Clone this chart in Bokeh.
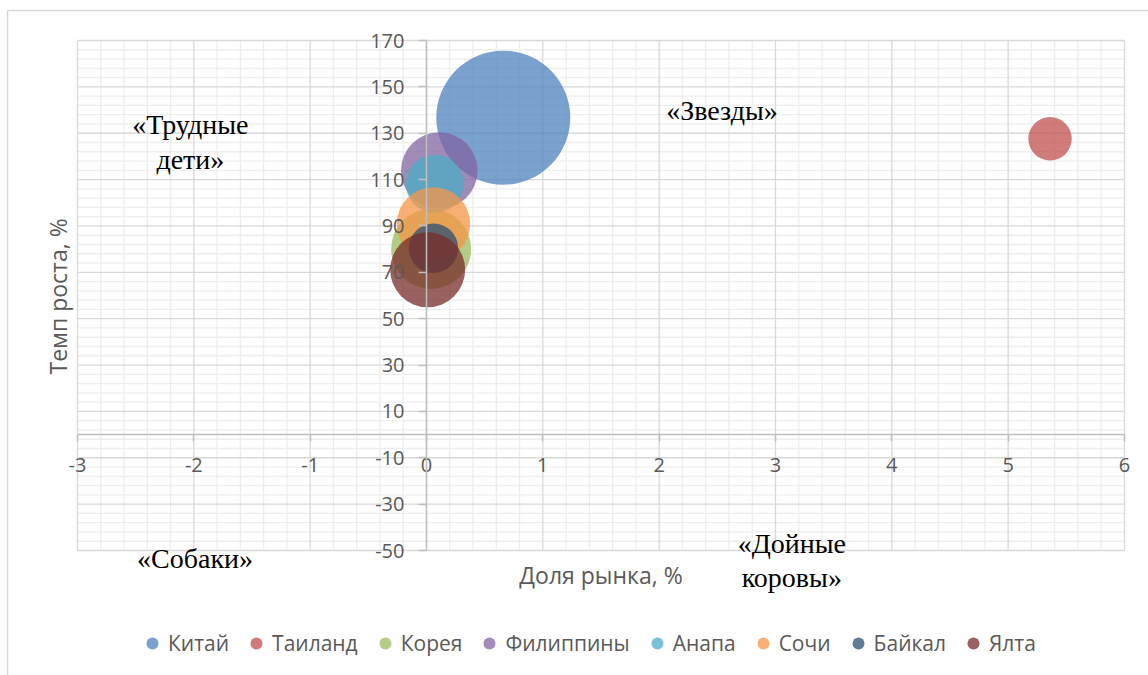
import numpy as np
from bokeh.plotting import figure
from bokeh.models import (LinearAxis, FixedTicker, Range1d, Legend, LegendItem,
                          ColumnDataSource)
from bokeh.core.properties import value
from bokeh.embed import file_html
from bokeh.resources import INLINE

# ---------------- data ----------------
countries = ["Китай", "Таиланд", "Корея", "Филиппины", "Анапа", "Сочи", "Байкал", "Ялта"]
market_share = [0.66, 5.36, 0.04, 0.11, 0.07, 0.06, 0.06, 0.01]      # Доля рынка, %
growth_rate = [136.7, 127.6, 80.1, 113.9, 108.2, 90.9, 80.4, 71.1]   # Темп роста, %
bubble_value = [100.0, 10.5, 35.6, 32.7, 18.7, 30.0, 13.6, 31.3]     # bubble size
x_ticks = [-3, -2, -1, 0, 1, 2, 3, 4, 5, 6]
y_ticks = [-50, -30, -10, 10, 30, 50, 70, 90, 110, 130, 150, 170]
quadrant_texts = ["«Трудные", "дети»", "«Звезды»", "«Собаки»", "«Дойные", "коровы»"]
x_title = "Доля рынка, %"
y_title = "Темп роста, %"

colors = ["#4F81BD", "#C0504D", "#9BBB59", "#8064A2", "#4BACC6", "#F79646", "#2C4D75", "#772C2A"]

# ---------------- layout ----------------
W, H = 1148, 675
L, R, T, B = 77, 1124, 40, 550          # plot area in pixels
xmin, xmax = -3, 6
ymin, ymax = -50, 170
kx = (R - L) / (xmax - xmin)
ky = (B - T) / (ymax - ymin)
x_range = Range1d(xmin - L / kx, xmax + (W - R) / kx)
y_range = Range1d(ymin - (H - B) / ky, ymax + T / ky)


def px(xp):
    return xmin + (xp - L) / kx


def py(yp):
    return ymax - (yp - T) / ky


p = figure(width=W, height=H, x_range=x_range, y_range=y_range,
           x_axis_location=None, y_axis_location=None,
           toolbar_location=None, output_backend="svg", min_border=0,
           outline_line_color=None, background_fill_color="white",
           border_fill_color="white")
p.grid.visible = False

# chart-area border (left and top edges)
p.segment(x0=[px(7), px(7)], y0=[py(10), py(10)], x1=[px(W), px(7)], y1=[py(10), py(H)],
          line_color="#d9d9d9", line_width=1.5)

# minor grid
minor_x = [round(v, 1) for v in np.arange(xmin, xmax + 1e-9, 0.2) if abs(v - round(v)) > 1e-6]
minor_y = [v for v in range(ymin, ymax + 1, 4) if (v - ymin) % 20 != 0]
p.segment(x0=minor_x, y0=ymin, x1=minor_x, y1=ymax, line_color="#eeeeee", line_width=1.3)
p.segment(x0=xmin, y0=minor_y, x1=xmax, y1=minor_y, line_color="#eeeeee", line_width=1.3)
# major grid
p.segment(x0=x_ticks, y0=ymin, x1=x_ticks, y1=ymax, line_color="#d9d9d9", line_width=1.3)
p.segment(x0=xmin, y0=y_ticks, x1=xmax, y1=y_ticks, line_color="#d9d9d9", line_width=1.3)

# axes crossing at 0
common = dict(axis_line_color="#bfbfbf", axis_line_width=1.5,
              major_tick_line_color="#bfbfbf", major_tick_line_width=1.5,
              major_tick_in=0, minor_tick_line_color=None,
              major_label_text_font="Open Sans", major_label_text_font_size="20px",
              major_label_text_color="#595959")
xax = LinearAxis(ticker=FixedTicker(ticks=x_ticks, minor_ticks=[]), fixed_location=0,
                 bounds=(xmin, xmax), major_tick_out=7, major_label_standoff=16,
                 major_label_overrides={t: str(t) for t in x_ticks}, **common)
yax = LinearAxis(ticker=FixedTicker(ticks=y_ticks, minor_ticks=[]), fixed_location=0,
                 bounds=(ymin, ymax), major_tick_out=8, major_label_standoff=14,
                 major_label_overrides={t: str(t) for t in y_ticks}, **common)
p.add_layout(xax, "below")
p.add_layout(yax, "left")

# bubbles
max_d = 134.0
vmax = max(bubble_value)
items = []
for name, xs, ys, v, c in zip(countries, market_share, growth_rate, bubble_value, colors):
    src = ColumnDataSource(dict(x=[xs], y=[ys], d=[max_d * np.sqrt(v / vmax)]))
    r = p.scatter(x="x", y="y", size="d", marker="circle", source=src,
                  fill_color=c, fill_alpha=0.75, line_color=None)
    items.append(LegendItem(label=name, renderers=[r]))

legend = Legend(items=items, orientation="horizontal", location=(137, 17),
                glyph_width=30, glyph_height=30, label_standoff=1, spacing=12,
                padding=0, margin=0, border_line_color=None, background_fill_alpha=0,
                label_text_font="Open Sans", label_text_font_size="21px",
                label_text_color="#595959", label_height=30)
p.add_layout(legend)

# quadrant labels
qx = [-2.03, -2.03, 2.54, -1.99, 3.14, 3.14]
qy = [133.6, 118.5, 139.8, -53.4, -47.0, -61.6]
p.text(x=qx, y=qy, text=quadrant_texts, text_font=value("Liberation Serif"),
       text_font_size="28px", text_color="black", text_align="center",
       text_baseline="middle")

# axis titles
p.text(x=[1.50], y=[-60.7], text=[x_title], text_font=value("Open Sans"),
       text_font_size="23px", text_color="#595959", text_align="center",
       text_baseline="middle")
p.text(x=[-3.17], y=[59.6], text=[y_title], text_font=value("Open Sans"),
       text_font_size="23px", text_color="#595959", text_align="center",
       text_baseline="middle", angle=np.pi / 2)

open("out.html", "w").write(file_html(p, INLINE))
